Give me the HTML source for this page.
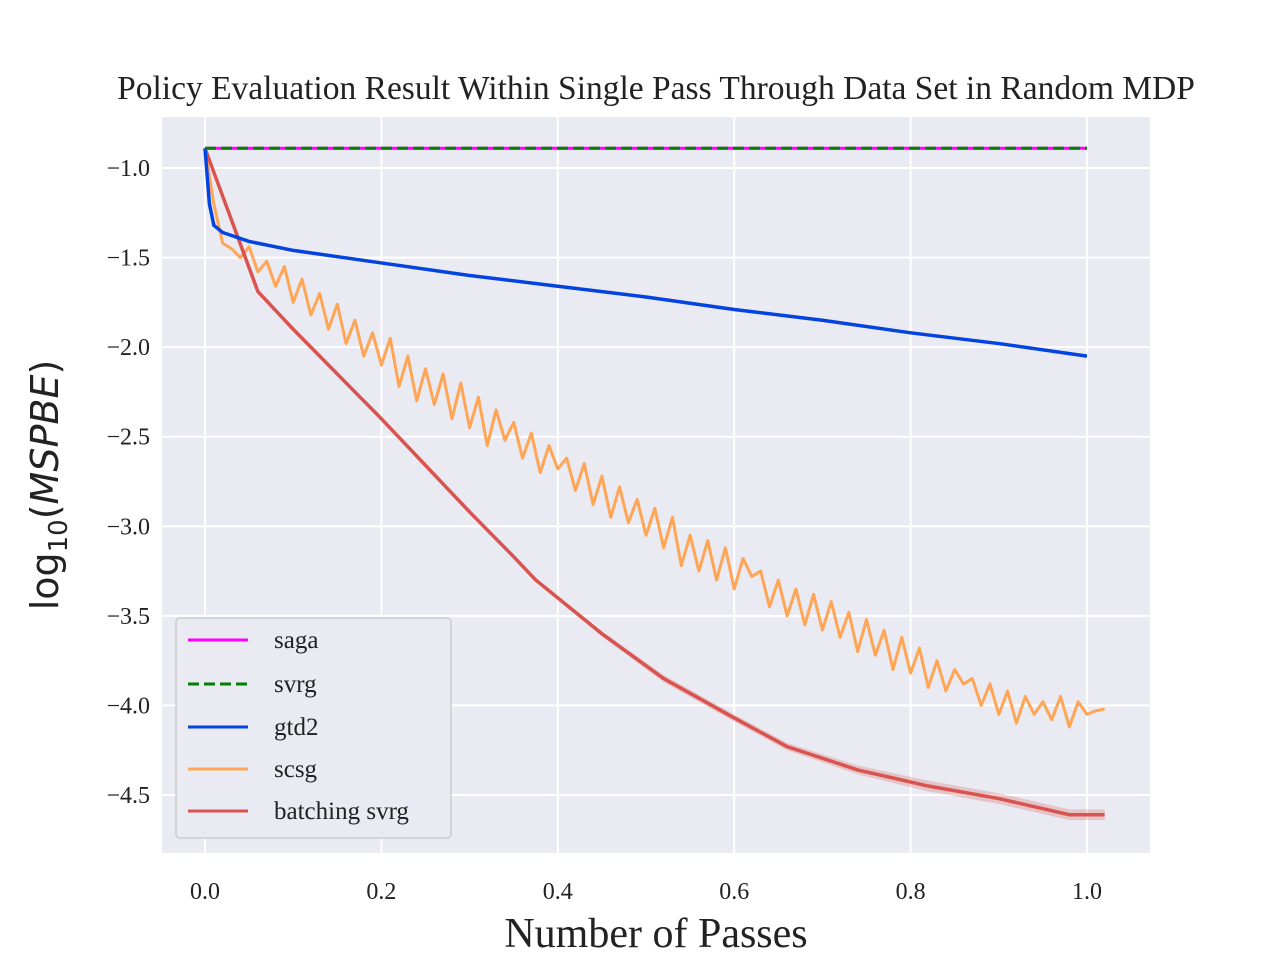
<!DOCTYPE html>
<html><head><meta charset="utf-8">
<style>
body{margin:0;background:#fff;width:1280px;height:960px;overflow:hidden}
svg text{font-family:"Liberation Serif",serif;fill:#222}
</style></head>
<body>
<svg id="chart" width="1280" height="960" xmlns="http://www.w3.org/2000/svg">
<rect x="162" y="117" width="988" height="736" fill="#eaeaf2"/>
<g id="grid"></g>
<g id="series"></g>
<g id="ticks"></g>
<text x="656" y="99" font-size="33.5" text-anchor="middle">Policy Evaluation Result Within Single Pass Through Data Set in Random MDP</text>
<text x="656" y="947" font-size="42" text-anchor="middle">Number of Passes</text>
<text transform="translate(58,485) rotate(-90)" font-size="38" text-anchor="middle" style="font-family:'DejaVu Sans',sans-serif">log<tspan font-size="26" dy="9">10</tspan><tspan dy="-9">(</tspan><tspan font-style="italic">MSPBE</tspan>)</text>
<g>
<rect x="176" y="618" width="275" height="220" rx="4" fill="#eaeaf2" stroke="#ccc" stroke-width="1.5"/>
<g><line x1="188" y1="640" x2="248" y2="640" stroke="#ff00ff" stroke-width="3"/><text x="274" y="648" font-size="25">saga</text></g>
<g><line x1="188" y1="684" x2="248" y2="684" stroke="#008000" stroke-width="3" stroke-dasharray="11,5"/><text x="274" y="692" font-size="25">svrg</text></g>
<g><line x1="188" y1="727" x2="248" y2="727" stroke="#0343df" stroke-width="3"/><text x="274" y="735" font-size="25">gtd2</text></g>
<g><line x1="188" y1="769" x2="248" y2="769" stroke="#ffa556" stroke-width="3"/><text x="274" y="777" font-size="25">scsg</text></g>
<g><line x1="188" y1="811" x2="248" y2="811" stroke="#d9534f" stroke-width="3"/><text x="274" y="819" font-size="25">batching svrg</text></g>
</g>
</svg>
<script>
const xTicks=[0.0,0.2,0.4,0.6,0.8,1.0];
const yTicks=[-1.0,-1.5,-2.0,-2.5,-3.0,-3.5,-4.0,-4.5];
const flatX=[0,1.0];
const sagaY=[-0.89,-0.89];
const svrgY=[-0.89,-0.89];
const gtd2X=[0,0.005,0.01,0.02,0.05,0.1,0.2,0.3,0.4,0.5,0.6,0.7,0.8,0.9,1.0];
const gtd2Y=[-0.89,-1.2,-1.32,-1.36,-1.41,-1.46,-1.53,-1.6,-1.66,-1.72,-1.79,-1.85,-1.92,-1.98,-2.05];
const batchX=[0,0.06,0.1,0.15,0.2,0.25,0.3,0.35,0.375,0.45,0.52,0.6,0.66,0.74,0.82,0.9,0.98,1.02];
const batchY=[-0.89,-1.69,-1.9,-2.15,-2.4,-2.66,-2.92,-3.17,-3.3,-3.6,-3.85,-4.07,-4.23,-4.36,-4.45,-4.52,-4.61,-4.61];
const batchBand=[0,0.01,0.01,0.01,0.01,0.01,0.01,0.01,0.01,0.015,0.02,0.02,0.02,0.025,0.03,0.03,0.03,0.03];
const scsgY=[-0.89,-1.20,-1.42,-1.45,-1.50,-1.44,-1.58,-1.52,-1.66,-1.55,-1.75,-1.62,-1.82,-1.70,-1.90,-1.76,-1.98,-1.85,-2.05,-1.92,-2.10,-1.95,-2.22,-2.05,-2.30,-2.12,-2.32,-2.15,-2.40,-2.20,-2.45,-2.28,-2.55,-2.35,-2.52,-2.42,-2.62,-2.48,-2.70,-2.55,-2.68,-2.62,-2.80,-2.65,-2.88,-2.72,-2.95,-2.78,-2.98,-2.85,-3.05,-2.90,-3.12,-2.95,-3.22,-3.05,-3.25,-3.08,-3.30,-3.12,-3.35,-3.18,-3.28,-3.25,-3.45,-3.30,-3.50,-3.35,-3.55,-3.38,-3.58,-3.42,-3.62,-3.48,-3.70,-3.52,-3.72,-3.58,-3.80,-3.62,-3.82,-3.68,-3.90,-3.75,-3.92,-3.80,-3.88,-3.85,-4.00,-3.88,-4.05,-3.92,-4.10,-3.95,-4.05,-3.98,-4.08,-3.95,-4.12,-3.98,-4.05,-4.03,-4.02];
const scsgStep=0.01;

const NS="http://www.w3.org/2000/svg";
const sx=v=>205+v*882;
const sy=v=>168+(v+1)*(-179.14);
function mk(tag,attrs,parent){const e=document.createElementNS(NS,tag);for(const k in attrs)e.setAttribute(k,attrs[k]);parent.appendChild(e);return e;}
const grid=document.getElementById('grid'),ticks=document.getElementById('ticks'),ser=document.getElementById('series');
xTicks.forEach(t=>{
  const l=mk('line',{x1:sx(t),x2:sx(t),y1:117,y2:853,stroke:'#fff','stroke-width':2},grid);
  
  
  const tx=mk('text',{x:sx(t),y:899,'font-size':24,'text-anchor':'middle'},ticks);
  tx.textContent=t.toFixed(1);
  
  
});
yTicks.forEach(t=>{
  const l=mk('line',{x1:162,x2:1150,y1:sy(t),y2:sy(t),stroke:'#fff','stroke-width':2},grid);
  
  
  const tx=mk('text',{x:150,y:sy(t)+8,'font-size':24,'text-anchor':'end'},ticks);
  tx.textContent='\u2212'+Math.abs(t).toFixed(1);
  
  
});
function pts(xs,ys){return xs.map((x,i)=>sx(x)+','+sy(ys[i])).join(' ');}
const up=batchX.map((x,i)=>sx(x)+','+sy(batchY[i]+batchBand[i]));
const lo=batchX.map((x,i)=>sx(x)+','+sy(batchY[i]-batchBand[i])).reverse();
const band=mk('polygon',{points:up.concat(lo).join(' '),fill:'#d9534f','fill-opacity':0.25},ser);


const scsgX=scsgY.map((_,i)=>i*scsgStep);
const s1=mk('polyline',{points:pts(scsgX,scsgY),fill:'none',stroke:'#ffa556','stroke-width':3,'stroke-linejoin':'round'},ser);


const s2=mk('polyline',{points:pts(batchX,batchY),fill:'none',stroke:'#d9534f','stroke-width':3.5},ser);


const s3=mk('polyline',{points:pts(gtd2X,gtd2Y),fill:'none',stroke:'#0343df','stroke-width':3.5},ser);


const s4=mk('polyline',{points:pts(flatX,sagaY),fill:'none',stroke:'#ff00ff','stroke-width':3},ser);


const s5=mk('polyline',{points:pts(flatX,svrgY),fill:'none',stroke:'#008000','stroke-width':3,'stroke-dasharray':'11,5'},ser);


</script>
</body></html>
